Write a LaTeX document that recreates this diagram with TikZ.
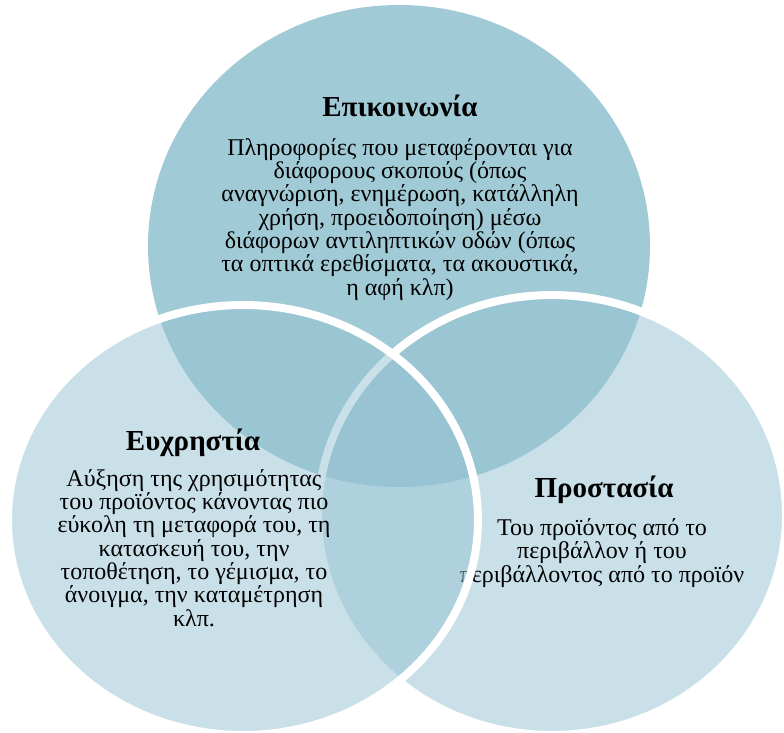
\documentclass[tikz,border=0pt]{standalone}
\usepackage{fontspec}
\setmainfont{Liberation Serif}
\definecolor{topfill}{RGB}{160,202,214}
\definecolor{sidefill}{RGB}{149,194,210}
\tikzset{
  side/.style={fill=sidefill, fill opacity=0.5, draw=white, draw opacity=1, line width=8pt},
  ttl/.style={font=\fontsize{29}{32}\selectfont\bfseries, anchor=base, inner sep=0pt},
  % multi-line nodes: the base anchor sits on the last line
  body/.style={font=\fontsize{24}{23.3}\selectfont, align=center, anchor=base, inner sep=0pt},
}
\begin{document}
\begin{tikzpicture}[x=1pt,y=-1pt]
  \useasboundingbox (0,0) rectangle (784,733);
  \clip (0,0) rectangle (784,733);
  % upper circle
  \fill[topfill] (399,246) ellipse [x radius=251pt, y radius=241pt];
  \node[ttl] (t1) at (400,117) {Επικοινωνία};
  \node[body] (b1) at (400,295) {Πληροφορίες που μεταφέρονται για\\
    διάφορους σκοπούς (όπως\\
    αναγνώριση, ενημέρωση, κατάλληλη\\
    χρήση, προειδοποίηση) μέσω\\
    διάφορων αντιληπτικών οδών (όπως\\
    τα οπτικά ερεθίσματα, τα ακουστικά,\\
    η αφή κλπ)};
  % right circle
  \path[side] (552,515) ellipse [x radius=234pt, y radius=220pt];
  \node[ttl] (t3) at (604,497) {Προστασία};
  \node[body] (b3) at (602,582) {Του προϊόντος από το\\
    περιβάλλον ή του\\
    περιβάλλοντος από το προϊόν};
  % left circle
  \path[side] (243,520) ellipse [x radius=235pt, y radius=215pt];
  \node[ttl] (t2) at (193,450) {Ευχρηστία};
  \node[body] (b2) at (194,626) {Αύξηση της χρησιμότητας\\
    του προϊόντος κάνοντας πιο\\
    εύκολη τη μεταφορά του, τη\\
    κατασκευή του, την\\
    τοποθέτηση, το γέμισμα, το\\
    άνοιγμα, την καταμέτρηση\\
    κλπ.};
\end{tikzpicture}
\end{document}
